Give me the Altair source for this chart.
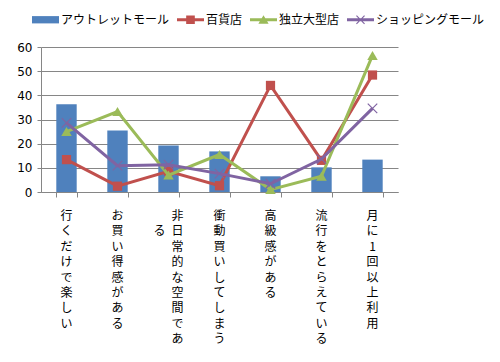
import altair as alt
import pandas as pd

categories = ["行くだけで楽しい", "お買い得感がある", "非日常的な空間である", "衝動買いしてしまう",
              "高級感がある", "流行をとらえている", "月に1回以上利用"]
series_names = ["アウトレットモール", "百貨店", "独立大型店", "ショッピングモール"]
outlet = [36.3, 25.5, 19.2, 16.8, 6.5, 10.2, 13.4]
dept = [13.4, 2.4, 8.6, 2.6, 44.1, 13.1, 48.4]
indep = [25.0, 33.3, 7.0, 15.5, 1.0, 6.5, 56.5]
mall = [28.6, 10.9, 11.3, 7.6, 3.4, 13.6, 34.6]
y_ticks = [0, 10, 20, 30, 40, 50, 60]

colors = ["#4F81BD", "#C0504D", "#9BBB59", "#8064A2"]
W, H = 357, 145
GRID = "#868686"
JP = "Noto Sans CJK JP"
WRAP = 9

df = pd.DataFrame({"cat": categories, "outlet": outlet, "dept": dept, "indep": indep, "mall": mall})

# vertical x-axis labels (one character per line, wrapped into columns right-to-left)
rows = []
for c in categories:
    chars = list(c)
    if len(chars) <= WRAP:
        rows.append({"cat": c, "shift": 0, "txt": "\n".join(chars)})
    else:
        first, rest = chars[:WRAP], chars[WRAP:]
        pad = (WRAP - len(rest)) // 2
        rows.append({"cat": c, "shift": 1, "txt": "\n".join(first)})
        rows.append({"cat": c, "shift": -1, "txt": "\n".join(["\u3000"] * pad + rest)})
lab = pd.DataFrame(rows)

xscale = alt.Scale(domain=categories, paddingInner=0.6, paddingOuter=0.3)
yscale = alt.Scale(domain=[0, 60], nice=False)

x_ax = alt.Axis(title=None, labels=False, tickBand="extent", tickSize=5,
                tickColor=GRID, domainColor=GRID, grid=False)
y_ax = alt.Axis(title=None, values=y_ticks, grid=True, gridColor=GRID,
                domainColor=GRID, tickColor=GRID, tickSize=4, labelPadding=5,
                labelOverlap=False,
                labelFont="DejaVu Sans", labelFontSize=12, labelColor="#000")

x_enc = alt.X("cat:N", scale=xscale, sort=categories, axis=x_ax)

def y_enc(field):
    return alt.Y(f"{field}:Q", scale=yscale, axis=y_ax)

base = alt.Chart(df)

bars = base.mark_bar(color=colors[0]).encode(x=x_enc, y=y_enc("outlet"))

def line_layer(field, color, shape, size, filled=True, sw=1):
    ln = base.mark_line(color=color, strokeWidth=3).encode(x=x_enc, y=y_enc(field))
    pt = base.mark_point(color=color, shape=shape, size=size, filled=filled, opacity=1,
                         strokeWidth=sw).encode(x=x_enc, y=y_enc(field))
    return ln + pt

red = line_layer("dept", colors[1], "square", 85)
green = line_layer("indep", colors[2], "triangle-up", 110)
purple = line_layer("mall", colors[3], "M-1,-1L1,1M-1,1L1,-1", 90, filled=False, sw=1.2)

# legend (symbols combine line + marker like the original)
legend_shapes = [
    "M-1,-0.27H1V0.27H-1Z",
    "M-1,-0.11H1V0.11H-1Z M-0.32,-0.32H0.32V0.32H-0.32Z",
    "M-1,-0.11H1V0.11H-1Z M0,-0.34L0.38,0.3H-0.38Z",
    "M-1,-0.11H1V0.11H-1Z M-0.33,-0.27L-0.27,-0.33L0.33,0.27L0.27,0.33Z M-0.33,0.27L0.27,-0.33L0.33,-0.27L-0.27,0.33Z",
]
leg_props = dict(title=None, orient="none", direction="horizontal",
                 legendX=-9, legendY=-41, padding=0,
                 symbolSize=729, symbolStrokeWidth=0,
                 labelFont=JP, labelFontSize=12, labelColor="#000",
                 labelOffset=2, columnPadding=7)
leg_df = pd.DataFrame({"series": series_names})
legend_layer = alt.Chart(leg_df).mark_point(filled=True, opacity=1).encode(
    color=alt.Color("series:N", scale=alt.Scale(domain=series_names, range=colors),
                    legend=alt.Legend(**leg_props)),
    shape=alt.Shape("series:N", scale=alt.Scale(domain=series_names, range=legend_shapes),
                    legend=alt.Legend(**leg_props)),
).transform_filter("false")

def label_layer(shift, dx):
    return alt.Chart(lab).transform_filter(f"datum.shift == {shift}").mark_text(
        font=JP, fontSize=12, lineHeight=15.4, baseline="top", align="center",
        lineBreak="\n", dx=dx, color="#000").encode(
        x=x_enc,
        y=alt.value(H + 19),
        text="txt:N")

labels = label_layer(0, 0) + label_layer(1, 9) + label_layer(-1, -9)

chart = alt.layer(bars, red, green, purple, legend_layer, labels).properties(
    width=W, height=H,
    autosize=alt.AutoSizeParams(type="none"),
    padding={"left": 33, "top": 39, "right": 94, "bottom": 162},
).configure_view(stroke=None)

chart.save("out.html", embed_options={"renderer": "svg", "actions": False})
